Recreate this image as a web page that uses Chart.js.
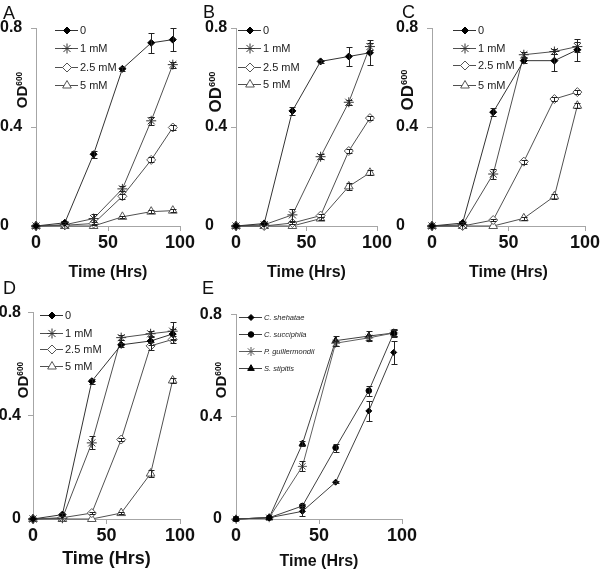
<!DOCTYPE html>
<html>
<head>
<meta charset="utf-8">
<script src="https://cdn.jsdelivr.net/npm/chart.js@4.4.1/dist/chart.umd.min.js"></script>
<style>
  html, body { margin: 0; padding: 0; background: #fff; }
  body { width: 600px; height: 571px; position: relative; overflow: hidden; font-family: "Liberation Sans", Arial, sans-serif; }
  .box { position: absolute; }
  .letter { position: absolute; font-size: 18px; line-height: 18px; color: #111; }
  .ytitle { position: absolute; font-weight: bold; color: #111; white-space: nowrap; line-height: 1; transform: translate(-50%, -50%) rotate(-90deg); }
  .ytitle sup { font-size: 55%; vertical-align: 0.55em; }
</style>
</head>
<body>
<script>
// Shared axes
const hours = [0, 20, 40, 60, 80, 95];
const xTicks = [0, 50, 100];
const yTicks = [0, 0.4, 0.8];
const concLabels = ['0', '1 mM', '2.5 mM', '5 mM'];
const yeastLabels = ['C. shehatae', 'C. succiphila', 'P. guillermondii', 'S. stipitis'];

// Panel A
const a0 = [0, 0.013, 0.29, 0.635, 0.74, 0.753];
const a1 = [0, 0.005, 0.03, 0.15, 0.425, 0.652];
const a25 = [0, 0.003, 0.01, 0.12, 0.267, 0.398];
const a5 = [0, 0, 0, 0.037, 0.058, 0.062];
const a0Err = [0, 0.005, 0.015, 0.008, 0.04, 0.045];
const a1Err = [0, 0, 0.02, 0.01, 0.015, 0.012];
const a25Err = [0, 0, 0.005, 0.01, 0.01, 0.01];
const a5Err = [0, 0, 0, 0.005, 0.006, 0.006];

// Panel B
const b0 = [0, 0.01, 0.465, 0.665, 0.685, 0.70];
const b1 = [0, 0.005, 0.045, 0.28, 0.5, 0.725];
const b25 = [0, 0, 0.012, 0.042, 0.303, 0.436];
const b5 = [0, 0, 0, 0.03, 0.16, 0.215];
const b0Err = [0, 0.005, 0.015, 0.005, 0.04, 0.05];
const b1Err = [0, 0, 0.025, 0.01, 0.01, 0.015];
const b25Err = [0, 0, 0.005, 0.005, 0.008, 0.008];
const b5Err = [0, 0, 0, 0.005, 0.015, 0.01];

// Panel C
const c0 = [0, 0.012, 0.46, 0.668, 0.668, 0.712];
const c1 = [0, 0.005, 0.21, 0.692, 0.705, 0.725];
const c25 = [0, 0, 0.024, 0.26, 0.513, 0.541];
const c5 = [0, 0, 0, 0.031, 0.12, 0.486];
const c0Err = [0, 0.005, 0.015, 0.01, 0.04, 0.045];
const c1Err = [0, 0, 0.02, 0.01, 0.01, 0.02];
const c25Err = [0, 0, 0.005, 0.008, 0.008, 0.008];
const c5Err = [0, 0, 0, 0.005, 0.01, 0.01];

// Panel D
const d0 = [0, 0.017, 0.534, 0.675, 0.69, 0.717];
const d1 = [0, 0.003, 0.295, 0.703, 0.718, 0.728];
const d25 = [0, 0.005, 0.023, 0.308, 0.671, 0.696];
const d5 = [0, 0, 0, 0.023, 0.176, 0.537];
const d0Err = [0, 0.005, 0.01, 0.008, 0.015, 0.02];
const d1Err = [0, 0, 0.025, 0.01, 0.01, 0.035];
const d25Err = [0, 0, 0.005, 0.005, 0.015, 0.015];
const d5Err = [0, 0, 0, 0.005, 0.015, 0.01];

// Panel E
const eShe = [0, 0.005, 0.03, 0.144, 0.423, 0.652];
const eSuc = [0, 0.005, 0.051, 0.279, 0.502, 0.728];
const eGui = [0, 0.005, 0.206, 0.688, 0.709, 0.728];
const eSti = [0, 0.005, 0.294, 0.698, 0.716, 0.728];
const eSheErr = [0, 0, 0.02, 0.005, 0.04, 0.045];
const eSucErr = [0, 0, 0.008, 0.015, 0.02, 0.01];
const eGuiErr = [0, 0, 0.02, 0.01, 0.01, 0.01];
const eStiErr = [0, 0, 0.01, 0.02, 0.02, 0.015];

// Marker styles
const concStyles = [
    { pointStyle: 'rectRot', radius: 3.5, fill: '#000', stroke: '#000', line: '#333' },
    { pointStyle: 'star', radius: 5, fill: '#fff', stroke: '#333', line: '#505050' },
    { pointStyle: 'rectRot', radius: 4.5, fill: '#fff', stroke: '#555', line: '#505050' },
    { pointStyle: 'triangle', radius: 5, fill: '#fff', stroke: '#555', line: '#505050' }
];
const yeastStyles = [
    { pointStyle: 'rectRot', radius: 3, fill: '#000', stroke: '#000', line: '#404040' },
    { pointStyle: 'circle', radius: 2.8, fill: '#000', stroke: '#000', line: '#404040' },
    { pointStyle: 'star', radius: 4.5, fill: '#fff', stroke: '#555', line: '#606060' },
    { pointStyle: 'triangle', radius: 3.8, fill: '#000', stroke: '#000', line: '#404040' }
];

const FONT = '"Liberation Sans", Arial, sans-serif';

const panels = [
    { letter: 'A', labels: concLabels, styles: concStyles,
      series: [a0, a1, a25, a5], errs: [a0Err, a1Err, a25Err, a5Err],
      plot: [36, 28, 180, 226], yAlign: 'far', yEdge: 0, xH: 56, titleSize: 16,
      legendDx: 19, legendRows: [2, 20, 39, 57], legendFont: '11px ' + FONT,
      letterPos: [3, 4], yTitle: [21, 90, 15] },
    { letter: 'B', labels: concLabels, styles: concStyles,
      series: [b0, b1, b25, b5], errs: [b0Err, b1Err, b25Err, b5Err],
      plot: [236, 28, 377, 226], yAlign: 'far', yEdge: 205, xH: 56, titleSize: 16,
      legendDx: 2, legendRows: [2, 20, 39, 56], legendFont: '11px ' + FONT,
      letterPos: [203, 3], yTitle: [215, 92, 17] },
    { letter: 'C', labels: concLabels, styles: concStyles,
      series: [c0, c1, c25, c5], errs: [c0Err, c1Err, c25Err, c5Err],
      plot: [432, 28, 585, 226], yAlign: 'far', yEdge: 396, xH: 56, titleSize: 16,
      legendDx: 21, legendRows: [2, 20, 37, 57], legendFont: '11px ' + FONT,
      letterPos: [402, 3], yTitle: [407, 90, 17] },
    { letter: 'D', labels: concLabels, styles: concStyles,
      series: [d0, d1, d25, d5], errs: [d0Err, d1Err, d25Err, d5Err],
      plot: [33, 311, 180, 519], yAlign: 'near', yEdge: 21, xH: 51, titleSize: 18,
      legendDx: 7, legendRows: [2, 20, 36, 53], legendFont: '11px ' + FONT,
      letterPos: [3, 279], yTitle: [22, 380, 15] },
    { letter: 'E', labels: yeastLabels, styles: yeastStyles,
      series: [eShe, eSuc, eGui, eSti], errs: [eSheErr, eSucErr, eGuiErr, eStiErr],
      plot: [236, 311, 402, 519], yAlign: 'near', yEdge: 222, xH: 52, titleSize: 16,
      legendDx: 3, legendRows: [2, 19, 36, 53], legendFont: 'italic 7.5px ' + FONT,
      letterPos: [202, 279], yTitle: [220, 380, 15] }
];

// Error bars drawn from each dataset's error list
const errorBars = {
    id: 'errorBars',
    afterDatasetsDraw(chart) {
        const ctx = chart.ctx;
        const xs = chart.scales.x, ys = chart.scales.y;
        ctx.save();
        ctx.strokeStyle = '#222';
        ctx.lineWidth = 1;
        chart.data.datasets.forEach(ds => {
            ds.data.forEach((pt, k) => {
                const e = ds.errors[k];
                if (!e) return;
                const px = Math.round(xs.getPixelForValue(pt.x)) + 0.5;
                const top = Math.round(ys.getPixelForValue(pt.y + e)) + 0.5;
                const bot = Math.round(ys.getPixelForValue(pt.y - e)) + 0.5;
                ctx.beginPath();
                ctx.moveTo(px, top); ctx.lineTo(px, bot);
                ctx.moveTo(px - 3, top); ctx.lineTo(px + 3, top);
                ctx.moveTo(px - 3, bot); ctx.lineTo(px + 3, bot);
                ctx.stroke();
            });
        });
        ctx.restore();
    }
};

// Legend inside the plot, line + marker + label, stacked
const insideLegend = {
    id: 'insideLegend',
    afterDraw(chart, args, opts) {
        const ctx = chart.ctx;
        const area = chart.chartArea;
        ctx.save();
        chart.data.datasets.forEach((ds, i) => {
            const x0 = area.left + opts.dx;
            const y = Math.round(area.top + opts.rows[i]) + 0.5;
            ctx.strokeStyle = ds.borderColor;
            ctx.lineWidth = 1;
            ctx.beginPath();
            ctx.moveTo(x0, y);
            ctx.lineTo(x0 + 23, y);
            ctx.stroke();
            ctx.fillStyle = ds.pointBackgroundColor;
            ctx.strokeStyle = ds.pointBorderColor;
            Chart.helpers.drawPoint(ctx, { pointStyle: ds.pointStyle, radius: ds.pointRadius, borderWidth: 1, rotation: 0 }, x0 + 12, y);
            ctx.fillStyle = '#222';
            ctx.font = opts.font;
            ctx.textBaseline = 'middle';
            ctx.textAlign = 'left';
            ctx.fillText(ds.label, x0 + 25, y);
        });
        ctx.restore();
    }
};

function makePanel(p) {
    const [l, t, r, b] = p.plot;
    const boxLeft = p.yAlign === 'far' ? p.yEdge : p.yEdge - 40;
    const padTop = 15, padRight = 30, tickLen = 5;

    const div = document.createElement('div');
    div.className = 'box';
    div.style.left = boxLeft + 'px';
    div.style.top = (t - padTop) + 'px';
    div.style.width = (r + padRight - boxLeft) + 'px';
    div.style.height = (b - t + padTop + p.xH) + 'px';
    const cv = document.createElement('canvas');
    div.appendChild(cv);
    document.body.appendChild(div);

    // panel letter
    const let1 = document.createElement('div');
    let1.className = 'letter';
    let1.style.left = p.letterPos[0] + 'px';
    let1.style.top = p.letterPos[1] + 'px';
    let1.textContent = p.letter;
    document.body.appendChild(let1);

    // y title OD600
    const yt = document.createElement('div');
    yt.className = 'ytitle';
    yt.style.left = p.yTitle[0] + 'px';
    yt.style.top = p.yTitle[1] + 'px';
    yt.style.fontSize = p.yTitle[2] + 'px';
    yt.innerHTML = 'OD<sup>600</sup>';
    document.body.appendChild(yt);

    const axisColor = '#a6a6a6';

    new Chart(cv, {
        type: 'line',
        data: {
            datasets: p.series.map((vals, i) => {
                const st = p.styles[i];
                return {
                    label: p.labels[i],
                    data: hours.map((h, k) => ({ x: h, y: vals[k] })),
                    errors: p.errs[i],
                    borderColor: st.line,
                    borderWidth: 1,
                    pointStyle: st.pointStyle,
                    pointRadius: st.radius,
                    pointBackgroundColor: st.fill,
                    pointBorderColor: st.stroke,
                    pointBorderWidth: 1,
                    tension: 0,
                    clip: false
                };
            })
        },
        options: {
            responsive: true,
            maintainAspectRatio: false,
            animation: false,
            events: [],
            layout: { padding: { top: padTop, right: padRight, left: 0, bottom: 0 } },
            plugins: {
                legend: { display: false },
                tooltip: { enabled: false },
                insideLegend: { dx: p.legendDx, rows: p.legendRows, font: p.legendFont }
            },
            scales: {
                x: {
                    type: 'linear',
                    min: 0,
                    max: 100,
                    afterBuildTicks: s => { s.ticks = xTicks.map(v => ({ value: v })); },
                    afterFit: s => { s.height = p.xH; },
                    border: { color: axisColor, width: 1 },
                    grid: { drawOnChartArea: false, tickLength: tickLen, color: axisColor },
                    ticks: { padding: 1, autoSkip: false, maxRotation: 0, color: '#111',
                             font: { family: FONT, size: 18, weight: 'bold' } },
                    title: { display: true, text: 'Time (Hrs)', padding: 0, color: '#111',
                             font: { family: FONT, size: p.titleSize, weight: 'bold' } }
                },
                y: {
                    type: 'linear',
                    min: 0,
                    max: 0.8,
                    afterBuildTicks: s => { s.ticks = yTicks.map(v => ({ value: v })); },
                    afterFit: s => { s.width = l - boxLeft; },
                    border: { color: axisColor, width: 1 },
                    grid: { drawOnChartArea: false, tickLength: tickLen, color: axisColor },
                    ticks: { padding: p.yAlign === 'far' ? 0 : (l - p.yEdge - tickLen), crossAlign: p.yAlign,
                             autoSkip: false, color: '#111',
                             callback: v => String(v),
                             font: { family: FONT, size: 16, weight: 'bold' } }
                }
            }
        },
        plugins: [errorBars, insideLegend]
    });
}

panels.forEach(makePanel);
</script>
</body>
</html>
